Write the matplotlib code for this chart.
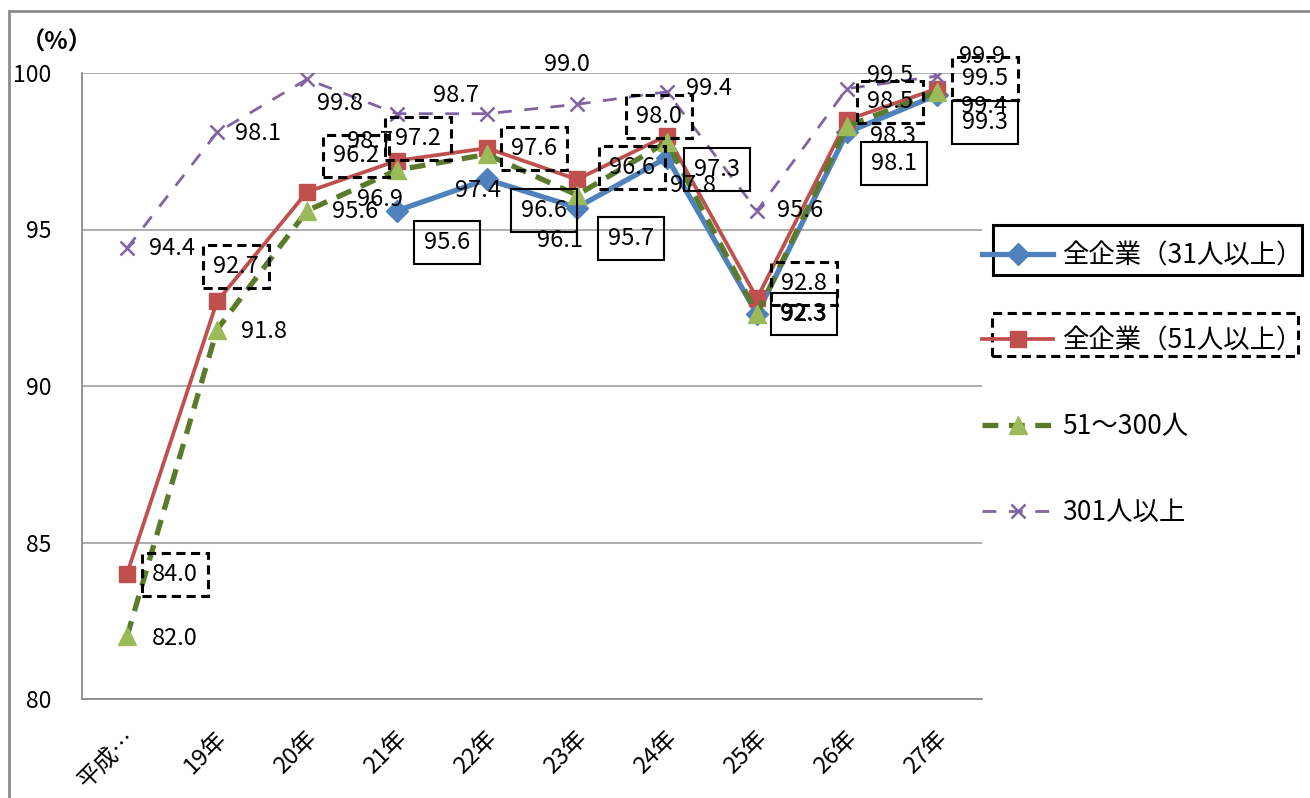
import numpy as np
import matplotlib
matplotlib.use("Agg")
import matplotlib.pyplot as plt
import matplotlib.transforms as mtransforms
from matplotlib.patches import Rectangle

plt.rcParams['font.family'] = ['Noto Sans CJK JP', 'DejaVu Sans']

# ---------------- data ----------------
categories = ['平成…', '19年', '20年', '21年', '22年', '23年', '24年', '25年', '26年', '27年']
all_31 = [np.nan, np.nan, np.nan, 95.6, 96.6, 95.7, 97.3, 92.3, 98.1, 99.3]
all_51 = [84.0, 92.7, 96.2, 97.2, 97.6, 96.6, 98.0, 92.8, 98.5, 99.5]
mid_51_300 = [82.0, 91.8, 95.6, 96.9, 97.4, 96.1, 97.8, 92.3, 98.3, 99.4]
large_301 = [94.4, 98.1, 99.8, 98.7, 98.7, 99.0, 99.4, 95.6, 99.5, 99.9]
series_names = ['全企業（31人以上）', '全企業（51人以上）', '51～300人', '301人以上']
yticks = [80, 85, 90, 95, 100]

# ---------------- label layout (pixel offsets, screen: +x right, +y down) ----------------
off_31 = [None, None, None, (50, 32), (57, 31), (54, 31), (50, 12), (47, 0), (47, 31), (48, 28)]
off_51 = [(48, 1), (19, -35), (49, -36), (21, -22), (47, 0), (55, -12), (-8, -19), (47, -15), (43, -18), (48, -10)]
off_mid = [(48, 2), (47, 2), (48, 1), (-17, 29), (-9, 36), (-17, 45), (26, 44), (46, -1), (46, 10), (47, 15)]
off_301 = [(45, 0), (41, 1), (33, 24), (-27, 28), (-31, -18), (-10, -40), (42, -3), (43, 0), (43, -13), (45, -20)]

W, H = 1310, 798
fig = plt.figure(figsize=(W / 100, H / 100), dpi=100)
ax = fig.add_axes([82 / W, (H - 699) / H, 900 / W, 626 / H])

x = np.arange(len(categories))

c_blue = '#4F81BD'
c_red = '#C0504D'
c_green_line = '#5A7A2C'
c_green_mk = '#9BBB59'
c_purple = '#8064A2'

l1, = ax.plot(x, all_31, color=c_blue, lw=3.8, marker='D', ms=11, mfc=c_blue, mec=c_blue,
              label=series_names[0], zorder=3)
l2, = ax.plot(x, all_51, color=c_red, lw=2.7, marker='s', ms=12, mfc=c_red, mec=c_red,
              label=series_names[1], zorder=4)
l3, = ax.plot(x, mid_51_300, color=c_green_line, lw=3.8, ls=(0, (3, 2)), marker='^', ms=13,
              mfc=c_green_mk, mec=c_green_mk, label=series_names[2], zorder=5)
l4, = ax.plot(x, large_301, color=c_purple, lw=2.0, ls=(0, (5, 4.5)), marker='x', ms=10, mew=1.8,
              label=series_names[3], zorder=6)

ax.set_xlim(-0.5, len(categories) - 0.5)
ax.set_ylim(80, 100)
ax.set_yticks(yticks)
ax.set_xticks(x)
ax.set_xticklabels(categories, rotation=45, ha='right', va='center', rotation_mode='anchor')
ax.tick_params(axis='x', length=0, pad=26, labelsize=17)
ax.tick_params(axis='y', length=0, pad=22, labelsize=16.5)
shift = mtransforms.ScaledTranslation(6 / 100, 0, fig.dpi_scale_trans)
for lab in ax.get_xticklabels():
    lab.set_transform(lab.get_transform() + shift)
ax.yaxis.grid(True, color='#A6A6A6', lw=1.3)
ax.set_axisbelow(True)
for s in ['top', 'right']:
    ax.spines[s].set_visible(False)
for s in ['left', 'bottom']:
    ax.spines[s].set_color('#8C8C8C')
    ax.spines[s].set_linewidth(1.3)

fig.text(57 / W, 1 - 43 / H, '（%）', ha='center', va='center', fontsize=17.5, fontweight='bold')

label_fs = 17


def add_labels(values, offsets, box):
    for i, (v, o) in enumerate(zip(values, offsets)):
        if o is None or np.isnan(v):
            continue
        kw = {}
        if box == 'solid':
            kw['bbox'] = dict(boxstyle='square,pad=0.42', fc='none', ec='black', lw=1.5)
        elif box == 'dashed':
            kw['bbox'] = dict(boxstyle='square,pad=0.42', fc='none', ec='black', lw=2.2, ls=(0, (3, 1.8)))
        ax.annotate(f'{v:.1f}', xy=(i, v), xytext=(o[0], -o[1]), textcoords='offset pixels',
                    ha='center', va='center', fontsize=label_fs, zorder=10, annotation_clip=False, **kw)


add_labels(all_31, off_31, 'solid')
add_labels(all_51, off_51, 'dashed')
add_labels(mid_51_300, off_mid, None)
add_labels(large_301, off_301, None)

leg = fig.legend(handles=[l1, l2, l3, l4], loc='upper left',
                 bbox_to_anchor=(982 / W, 1 - 242 / H), frameon=False, fontsize=19,
                 handlelength=2.7, handletextpad=0.35, labelspacing=2.22, borderpad=0, borderaxespad=0)

# frames around the first two legend entries
fig.patches.append(Rectangle((993 / W, 1 - 275 / H), 309 / W, 50 / H, transform=fig.transFigure,
                             fill=False, ec='black', lw=2.2))
fig.patches.append(Rectangle((992 / W, 1 - 356 / H), 306 / W, 43 / H, transform=fig.transFigure,
                             fill=False, ec='black', lw=2.2, ls=(0, (3, 1.8))))

# outer chart frame
fig.patches.append(Rectangle((9 / W, -0.01), 1.02 - 9 / W, 1 - 11 / H + 0.01, transform=fig.transFigure,
                             fill=False, ec='#8C8C8C', lw=2))

fig.savefig('out.png', dpi=100)
